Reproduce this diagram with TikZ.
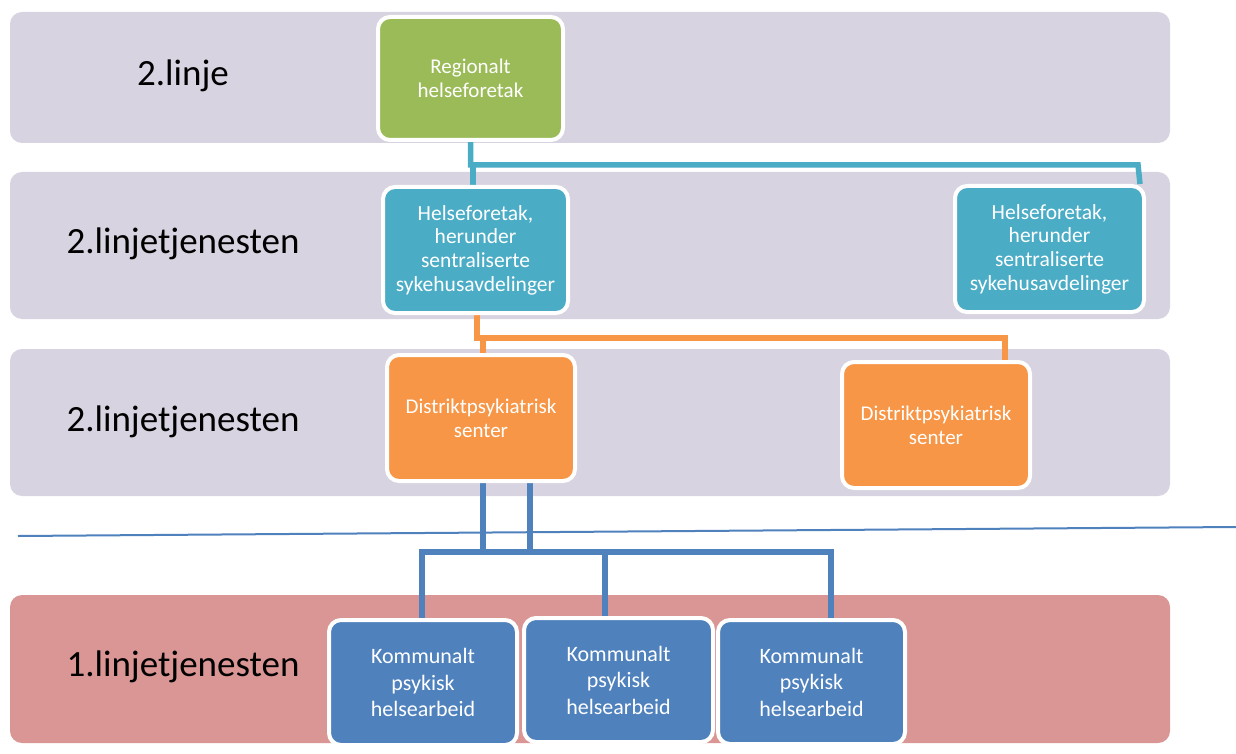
\documentclass[tikz,border=0pt]{standalone}
\usepackage{fontspec}
\setmainfont{Carlito}
\usetikzlibrary{calc}
\pgfdeclarelayer{bands}
\pgfdeclarelayer{conn}
\pgfsetlayers{bands,conn,main}
\definecolor{bandgray}{HTML}{D8D3E0}
\definecolor{bandred}{HTML}{D99694}
\definecolor{cgreen}{HTML}{9BBB59}
\definecolor{cteal}{HTML}{4BACC6}
\definecolor{corange}{HTML}{F79646}
\definecolor{cblue}{HTML}{4F81BD}
\tikzset{
  band/.style={rounded corners=12pt},
  lvl/.style={font=\fontsize{37}{40}\selectfont, text=black},
  box/.style={draw=white, line width=4pt, rounded corners=12pt, text=white, align=center,
    font=\fontsize{21}{24}\selectfont, inner sep=2pt},
  conn/.style={line width=5.5pt},
}
\begin{document}
\begin{tikzpicture}[x=1pt,y=-1pt]
\useasboundingbox (0,0) rectangle (1236,754);
\begin{pgfonlayer}{bands}
\fill[white] (0,0) rectangle (1236,754);
\fill[band,bandgray] (10,12) rectangle (1170,143);
\fill[band,bandgray] (10,172) rectangle (1170,319);
\fill[band,bandgray] (10,349) rectangle (1170,496);
\fill[band,bandred] (10,595) rectangle (1170,743);
\end{pgfonlayer}

\node[lvl] (l1) at (183,76) {2.linje};
\node[lvl] (l2) at (183,244) {2.linjetjenesten};
\node[lvl] (l3) at (183,422) {2.linjetjenesten};
\node[lvl] (l4) at (183,667) {1.linjetjenesten};

\node[box, fill=cgreen, minimum width=185pt, minimum height=123pt] (rhf) at (470.5,78.5) {Regionalt\\helseforetak};
\node[box, fill=cteal, minimum width=185pt, minimum height=126pt, font=\fontsize{21.5}{23.6}\selectfont] (hf1) at (475.5,250) {Helseforetak,\\herunder\\sentraliserte\\sykehusavdelinger};
\node[box, fill=cteal, minimum width=189pt, minimum height=126pt, font=\fontsize{21.5}{23.6}\selectfont] (hf2) at (1049.5,249) {Helseforetak,\\herunder\\sentraliserte\\sykehusavdelinger};
\node[box, fill=corange, minimum width=188pt, minimum height=126pt] (dps1) at (481,418) {Distriktpsykiatrisk\\senter};
\node[box, fill=corange, minimum width=188pt, minimum height=126pt] (dps2) at (936,425) {Distriktpsykiatrisk\\senter};
\node[box, fill=cblue, minimum width=188pt, minimum height=125pt, font=\fontsize{22}{26.5}\selectfont] (k1) at (423,682.5) {Kommunalt\\psykisk\\helsearbeid};
\node[box, fill=cblue, minimum width=189pt, minimum height=124pt, font=\fontsize{22}{26.5}\selectfont] (k2) at (618.5,680) {Kommunalt\\psykisk\\helsearbeid};
\node[box, fill=cblue, minimum width=187pt, minimum height=124pt, font=\fontsize{22}{26.5}\selectfont] (k3) at (811.5,682) {Kommunalt\\psykisk\\helsearbeid};

\coordinate (sep1) at (18,536);
\coordinate (sep2) at (1236,527);

\begin{pgfonlayer}{conn}
% teal
\draw[conn, cteal] (rhf.south) -- (470.5,165) -- (1138,165) -- ($(hf2.north east)+(-6,0)$);
\draw[conn, cteal] (473,165) -- (hf1.north -| 473,0);
% orange
\draw[conn, corange] (hf1.south -| 477,0) -- (477,338) -- (1005,338) -- (dps2.north -| 1005,0);
\draw[conn, corange] (483,338) -- (dps1.north -| 483,0);
% blue
\draw[conn, cblue] (dps1.south -| 483,0) -- (483,552);
\draw[conn, cblue] (dps1.south -| 530,0) -- (530,552);
\draw[conn, cblue, line cap=rect] (k1.north -| 422,0) -- (422,552) -- (831,552) -- (k3.north -| 831,0);
\draw[conn, cblue] (605,552) -- (k2.north -| 605,0);
\draw[line width=2pt, cblue] (sep1) -- (sep2);
\end{pgfonlayer}
\end{tikzpicture}
\end{document}
